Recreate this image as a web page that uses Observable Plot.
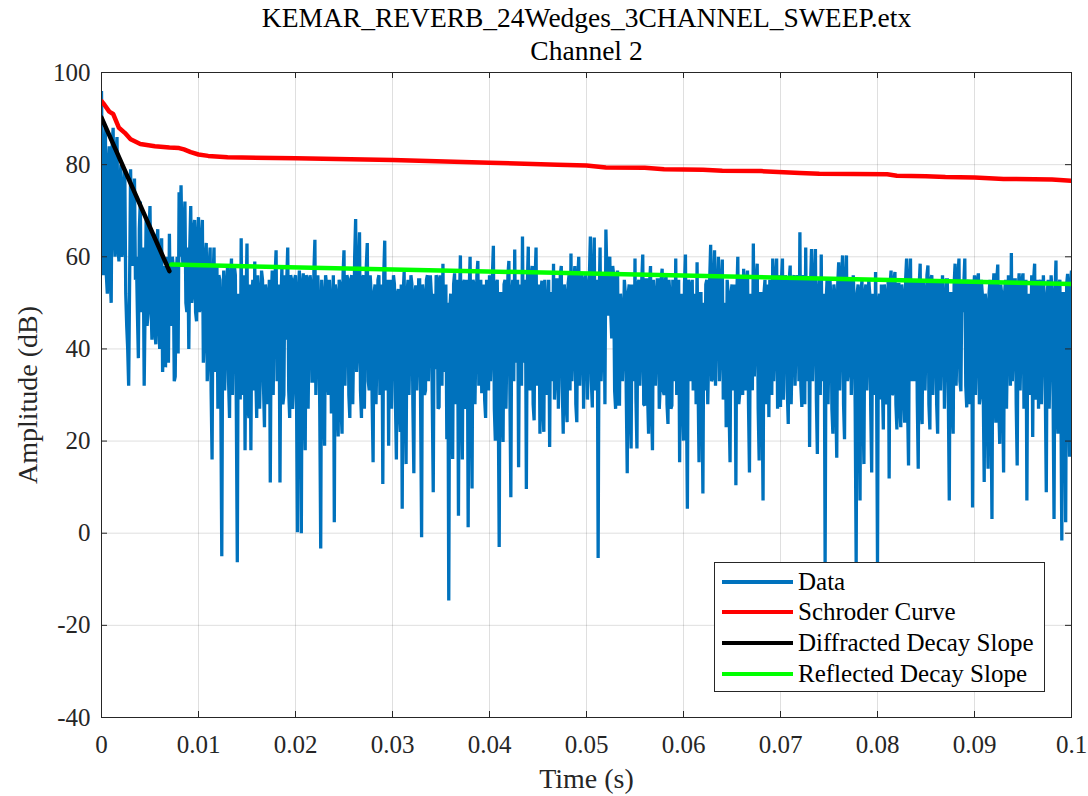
<!DOCTYPE html>
<html><head><meta charset="utf-8">
<script src="https://cdn.jsdelivr.net/npm/d3@7"></script>
<script src="https://cdn.jsdelivr.net/npm/@observablehq/plot@0.6"></script>
<style>
body{margin:0;background:#fff;font-family:"Liberation Serif","Times New Roman",serif;}
#wrap{position:relative;width:1088px;height:796px;overflow:hidden;}
#legend{position:absolute;left:714px;top:562px;width:329px;height:128px;border:1px solid #262626;background:#fff;}
.item{position:absolute;left:0;width:329px;height:30px;}
.swatch{position:absolute;left:7px;width:71px;height:4px;top:13px;}
.lbl{position:absolute;left:83px;top:0;height:30px;line-height:30px;font-size:25px;color:#000;white-space:nowrap;font-family:"Liberation Serif","Times New Roman",serif;}
</style></head><body><div id="wrap"></div>
<script>
// ---- texts ----
const titleLine1 = "KEMAR_REVERB_24Wedges_3CHANNEL_SWEEP.etx";
const titleLine2 = "Channel 2";
const xLabel = "Time (s)";
const yLabel = "Amplitude (dB)";
const xTicks = [0, 0.01, 0.02, 0.03, 0.04, 0.05, 0.06, 0.07, 0.08, 0.09, 0.1];
const xTickLabels = ["0", "0.01", "0.02", "0.03", "0.04", "0.05", "0.06", "0.07", "0.08", "0.09", "0.1"];
const yTicks = [-40, -20, 0, 20, 40, 60, 80, 100];
const yTickLabels = ["-40", "-20", "0", "20", "40", "60", "80", "100"];
const seriesNames = ["Data", "Schroder Curve", "Diffracted Decay Slope", "Reflected Decay Slope"];
const seriesColors = ["#0072BD", "#FF0000", "#000000", "#00FF00"];

// ---- Data: amplitude (dB) at t = i*0.0002 s ----
const dataStep = 0.0002;
const dataDB = [
96, 56, 88, 52, 84, 50, 88, 60, 86, 59,
80, 62, 79, 45, 32, 79, 58, 77, 60, 38,
72, 50, 32, 68, 48, 71, 42, 65, 41, 66,
40, 64, 44, 36, 60, 65, 45, 58, 34, 60,
74, 75.5, 58, 72, 48, 40, 71, 52, 68, 46,
68.6, 50, 68, 43, 63, 38, 62, 16, 62, 40,
27, 55, -5, 57, 40, 58, 25, 59.6, 45, 56,
-6.3, 50, 64, 30, 18, 62.9, 25, 18, 55, 59,
25, 52, 38, 55, 23, 52, 45, 11, 57, 50,
61.4, 40, 11, 58, 30, 42, 62, 25, 55, 32,
56, 0.2, 57, 0, 56.4, 18, 55, 45, 54, 33,
63.7, 42, 50, -3.3, 52, 19, 54, 30, 50, 40,
2.4, 52, 21, 54, 21.6, 61.4, 44, 55, 25, 56,
42, 68.2, 40, 65.3, 25, 56, 44, 63, 31, 52,
15.4, 54, 40, 56, 45, 10.7, 63.5, 40, 19, 55,
42, 54, 16, 53, 22, 5.3, 56.7, 15, 55, 42,
54, 13, 53.8, 40, 55, -0.9, 52, 31, 56, 44,
52, 8.9, 35.6, 55, 27.4, 51, 58.5, 40, 20.4, -14.6,
52, 16.1, 56.4, 45, 3.8, 60.3, 16, 55, 29.7, 1.3,
60, 9.7, 54, 42, 59.1, 40, 30.4, 54, 25, 50,
56, 40, 62.4, 20.1, 55, -3, 52, 19.8, 55, 42,
59.1, 7.8, 55, 61.6, 40, 14.3, 54, 64.4, 42, 9.6,
62.2, 31, 58, 24.5, 62, 40, 21.6, 54.8, 22, 50,
40, 18.7, 52, 58.5, 34, 55, 40, 58, 21.6, 52,
24.1, 56, 60.7, 40, 58, 24.1, 60, 39.6, 55, 42,
54, 40, 64.4, 27.3, 64.2, 42, -5.4, 62, 40, 55,
65.9, 47.2, 60, 42.3, 56, 27, 57, 28, 49, 40,
52, 13, 54, 18.4, 52, 59.6, 18.4, 55, 40, 60.5,
27.7, 55, 21.6, 58, 18, 52, 40, 55, 32, 57.4,
30, 56, 23.7, 52, 27.7, 50, 59.6, 45, 15.4, 52,
20.1, 60.5, 5.3, 54, 40, 31, 50, 58.8, 15.4, 52,
8.6, 31, 55, 40, 62.6, 33.7, 61.4, 45, 60, 40,
59.4, 42.4, 23, 52, 15.4, 54, 40, 10.4, 60, 30.4,
55, 57.4, 31, 57, 13.2, 50, 62.9, 42, 58.5, 15.8,
52, 7.1, 55, 40, 25.2, 54, 59.6, 40, 59.6, 42,
27.4, 59.6, 42, 54, 23.7, 58.1, 40, 56, 42, 55,
65.3, 27.4, 55, 62, 40, 18.7, 61.7, 42, 61.7, 17.2,
55, 60.5, 40, -7, 55, 42, 51, 21.6, 52, 16.4,
58.8, 42, 60.3, 20.4, 60.3, 35.3, 55, 42, 50, -6.6,
54, 7.1, 55, 15, 54, 40, 52, 13.2, 50, 56.7,
-6.3, 52, 54, 22.5, 52, 29.7, 11.9, 57, 30.4, 56.7,
22.5, 54, 23, 52, 24, 59.6, 14.7, 59.6, 40, 33,
55, 14, 58.5, 23.7, 52, 42, 58.1, 22.5, 56, 40,
54, 21.6, 53.8, 42, 50, 40, 55, 7.1, 52, 21.6,
58.5, 40, 59.6, 30.8, 48, 59.6, 27.3, 55, 42, 5.6,
56, 40, 56.4, 30, 52, 11.1, 50, 14, 55, 3.1,
56.4, 24, 58.3, 19.4, 52, 13.2, 55, 42, 50, 60.8,
40, 55, 14.7, 56.4, 42, 56.4, 40, 7.1, 52, 42,
20.9, 58.5, 40, 27, 55, 42, 50, 8.9, 55, 40,
52, 3.1, 59.2, 21.6, 55, -1.6, 52, 2.4, 56.3, 16.6,
57
];
// ---- Data: in-between samples at t = (i+0.5)*0.0002 s ----
const dataDBMid = [
70, 82, 56, 80, 55, 84, 66, 83, 62, 76,
60, 75, 52, 40, 55, 62, 72, 55, 48, 66,
48, 62, 50, 45, 66, 50, 60, 44, 62, 46,
62, 35, 58, 55, 37, 48, 60, 33, 56, 39,
60, 62, 66, 50, 62, 62, 50, 66, 48, 64,
48, 64, 37, 60, 33, 58, 31, 55, 35, 58,
56, 29, 50, 31, 54, 33, 55, 30, 58, 27,
52, 29, 33, 56, 50, 27, 54, 50, 31, 35,
56, 27, 57, 32, 54, 28, 55, 50, 30, 56,
33, 54, 50, 28, 56, 55, 31, 56, 27, 55,
32, 52, 34, 54, 29, 56, 27, 56, 33, 57,
30, 56, 27, 55, 28, 56, 33, 55, 26, 56,
54, 29, 55, 27, 56, 32, 56, 30, 55, 28,
60, 35, 58, 31, 55, 27, 58, 33, 56, 29,
52, 28, 55, 30, 54, 56, 31, 55, 50, 27,
56, 29, 52, 27, 54, 52, 32, 52, 30, 56,
28, 52, 31, 55, 27, 54, 30, 55, 33, 56,
29, 52, 56, 27, 56, 32, 35, 54, 50, 48,
30, 54, 28, 55, 50, 32, 54, 27, 55, 52,
33, 55, 28, 56, 32, 55, 52, 29, 55, 31,
33, 56, 27, 54, 30, 52, 28, 54, 27, 56,
31, 52, 33, 37, 55, 52, 32, 37, 55, 54,
33, 56, 28, 55, 32, 54, 52, 27, 55, 30,
55, 52, 33, 29, 55, 27, 56, 32, 54, 28,
54, 31, 33, 55, 28, 55, 32, 56, 27, 56,
29, 56, 33, 56, 31, 55, 50, 33, 56, 28,
56, 58, 48, 58, 31, 55, 28, 52, 33, 55,
30, 52, 27, 54, 33, 29, 54, 32, 55, 28,
55, 30, 54, 28, 55, 32, 55, 27, 55, 31,
54, 28, 55, 27, 55, 33, 30, 55, 50, 29,
54, 31, 55, 33, 55, 52, 28, 33, 52, 30,
50, 54, 28, 55, 33, 55, 32, 54, 33, 55,
29, 50, 55, 27, 52, 31, 54, 52, 28, 55,
30, 33, 55, 28, 52, 31, 34, 55, 27, 52,
31, 52, 28, 54, 55, 30, 33, 56, 27, 56,
55, 29, 56, 31, 55, 28, 55, 32, 56, 33,
32, 56, 28, 33, 55, 54, 33, 55, 29, 52,
30, 33, 52, 50, 28, 55, 27, 54, 29, 54,
31, 56, 28, 55, 33, 55, 30, 56, 27, 52,
32, 52, 28, 52, 31, 55, 27, 52, 30, 35,
50, 29, 33, 54, 28, 55, 54, 30, 55, 28,
54, 27, 54, 30, 55, 28, 55, 33, 55, 54,
29, 54, 27, 55, 31, 56, 28, 55, 30, 55,
28, 55, 31, 56, 27, 55, 30, 52, 28, 54,
32, 56, 33, 55, 54, 32, 54, 28, 55, 52,
30, 55, 28, 55, 31, 52, 27, 52, 30, 52,
31, 55, 28, 54, 30, 52, 27, 56, 32, 33,
55, 28, 52, 31, 55, 27, 55, 50, 30, 56,
55, 29, 55, 54, 28, 56, 31, 52, 27, 56,
30, 52, 28, 54, 32, 52, 27, 54, 30, 54
];

// ---- Schroder curve ----
const schroderT = [0, 0.0003, 0.0008, 0.0012, 0.0015, 0.0018, 0.0024, 0.0030, 0.0040, 0.0055, 0.0070, 0.0080, 0.0085, 0.0092, 0.0100, 0.0110, 0.0130, 0.0200, 0.0300, 0.0400, 0.0470, 0.0500, 0.0520, 0.0560, 0.0580, 0.0620, 0.0640, 0.0680, 0.0720, 0.0740, 0.0810, 0.0820, 0.0850, 0.0870, 0.0900, 0.0930, 0.0980, 0.1000];
const schroderDB = [93.8, 93, 91.5, 91, 89.5, 88, 86.9, 85.5, 84.5, 84, 83.7, 83.6, 83.3, 82.7, 82.2, 81.9, 81.6, 81.4, 81.0, 80.4, 80.0, 79.8, 79.4, 79.3, 79.0, 78.9, 78.7, 78.6, 78.2, 78.0, 77.9, 77.6, 77.5, 77.3, 77.2, 76.9, 76.8, 76.5];

// ---- Decay slopes ----
const diffractedT = [0, 0.007];
const diffractedDB = [90.2, 56.9];
const reflectedT = [0.0072, 0.1];
const reflectedDB = [58.3, 54.1];

// ---- build ----
const dataRows = [];
dataDB.forEach((v, i) => {
  dataRows.push({t: i * dataStep, v});
  if (i < dataDBMid.length) dataRows.push({t: (i + 0.5) * dataStep, v: dataDBMid[i]});
});
const schroderRows = schroderT.map((t, i) => ({t, v: schroderDB[i]}));
const diffRows = diffractedT.map((t, i) => ({t, v: diffractedDB[i]}));
const reflRows = reflectedT.map((t, i) => ({t, v: reflectedDB[i]}));

const W = 1088, H = 796, mL = 101, mR = 17, mT = 72, mB = 79;
const fw = W - mL - mR, fh = H - mT - mB, tick = 6;
const axisColor = "#262626";
const FF = "'Liberation Serif', 'Times New Roman', serif";

const plot = Plot.plot({
  width: W, height: H,
  marginLeft: mL, marginRight: mR, marginTop: mT, marginBottom: mB,
  style: {fontFamily: FF, fontSize: "25px", color: axisColor, background: "#fff", overflow: "visible"},
  x: {domain: [0, 0.1]},
  y: {domain: [-40, 100]},
  marks: [
    Plot.gridX(xTicks, {stroke: axisColor, strokeOpacity: 0.15, strokeWidth: 1}),
    Plot.gridY(yTicks, {stroke: axisColor, strokeOpacity: 0.15, strokeWidth: 1}),
    Plot.line(dataRows, {x: "t", y: "v", stroke: seriesColors[0], strokeWidth: 3.3, strokeLinejoin: "miter", strokeMiterlimit: 2, strokeLinecap: "butt", clip: true}),
    Plot.line(schroderRows, {x: "t", y: "v", stroke: seriesColors[1], strokeWidth: 4.5, clip: true}),
    Plot.line(diffRows, {x: "t", y: "v", stroke: seriesColors[2], strokeWidth: 4.5, clip: true}),
    Plot.line(reflRows, {x: "t", y: "v", stroke: seriesColors[3], strokeWidth: 4.5, clip: true}),
    Plot.frame({stroke: axisColor, strokeWidth: 1}),
    Plot.tickX(xTicks, {x: d => d, insetTop: fh - tick, stroke: axisColor}),
    Plot.tickX(xTicks, {x: d => d, insetBottom: fh - tick, stroke: axisColor}),
    Plot.tickY(yTicks, {y: d => d, insetRight: fw - tick, stroke: axisColor}),
    Plot.tickY(yTicks, {y: d => d, insetLeft: fw - tick, stroke: axisColor}),
    Plot.axisX(xTicks, {tickSize: 0, tickPadding: 18, label: null, fontSize: 25, fontFamily: FF, fill: axisColor, tickFormat: d => xTickLabels[xTicks.indexOf(d)]}),
    Plot.axisY(yTicks, {tickSize: 0, tickPadding: 11, label: null, fontSize: 25, fontFamily: FF, fill: axisColor, tickFormat: d => yTickLabels[yTicks.indexOf(d)]}),
    Plot.text([xLabel], {text: d => d, frameAnchor: "bottom", lineAnchor: "middle", textAnchor: "middle", dy: 62, fontSize: 28, fontFamily: FF, fill: axisColor}),
    Plot.text([yLabel], {text: d => d, frameAnchor: "left", lineAnchor: "middle", textAnchor: "middle", dx: -73, rotate: -90, fontSize: 28, fontFamily: FF, fill: axisColor}),
    Plot.text([titleLine1], {text: d => d, frameAnchor: "top", lineAnchor: "middle", textAnchor: "middle", dy: -54, fontSize: 27.5, fontFamily: FF, fill: "#000"}),
    Plot.text([titleLine2], {text: d => d, frameAnchor: "top", lineAnchor: "middle", textAnchor: "middle", dy: -21, fontSize: 27.5, fontFamily: FF, fill: "#000"})
  ]
});

const wrap = document.getElementById("wrap");
wrap.appendChild(plot);

// legend
const legend = document.createElement("div");
legend.id = "legend";
const centers = [19, 49, 80, 111];
seriesNames.forEach((name, i) => {
  const item = document.createElement("div");
  item.className = "item";
  item.style.top = (centers[i] - 15) + "px";
  const sw = document.createElement("div");
  sw.className = "swatch";
  sw.style.background = seriesColors[i];
  const lb = document.createElement("div");
  lb.className = "lbl";
  lb.textContent = name;
  item.appendChild(sw);
  item.appendChild(lb);
  legend.appendChild(item);
});
wrap.appendChild(legend);
</script>
</body></html>
